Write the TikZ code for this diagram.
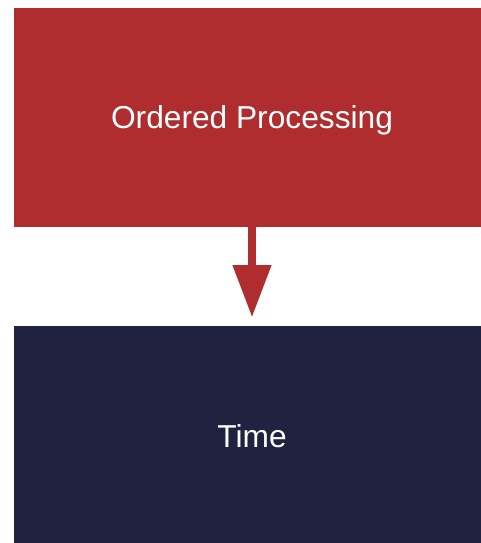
\documentclass[tikz,border=0pt]{standalone}
\usepackage{fontspec}
\setmainfont{Liberation Sans}
\usetikzlibrary{positioning,arrows.meta}
\definecolor{procred}{RGB}{175,45,46}
\definecolor{timenavy}{RGB}{31,35,64}
\tikzset{
  x=1pt,y=1pt,
  stagebox/.style={minimum width=476pt,minimum height=219pt,inner sep=0pt,
    text=white,text depth=0pt,font=\fontsize{31.7}{38}\selectfont},
  flowarrow/.style={-{Triangle[width=37pt,length=52pt]},line width=7.3pt,
    draw=procred,shorten >=9pt},
}
\begin{document}
\begin{tikzpicture}
  \useasboundingbox (0,0) rectangle (481,-543);
  \node[stagebox,fill=procred] (proc) at (252,-117.5) {Ordered Processing};
  \node[stagebox,fill=timenavy,below=99pt of proc] (time) {Time};
  \draw[flowarrow] (proc) -- (time);
\end{tikzpicture}
\end{document}
